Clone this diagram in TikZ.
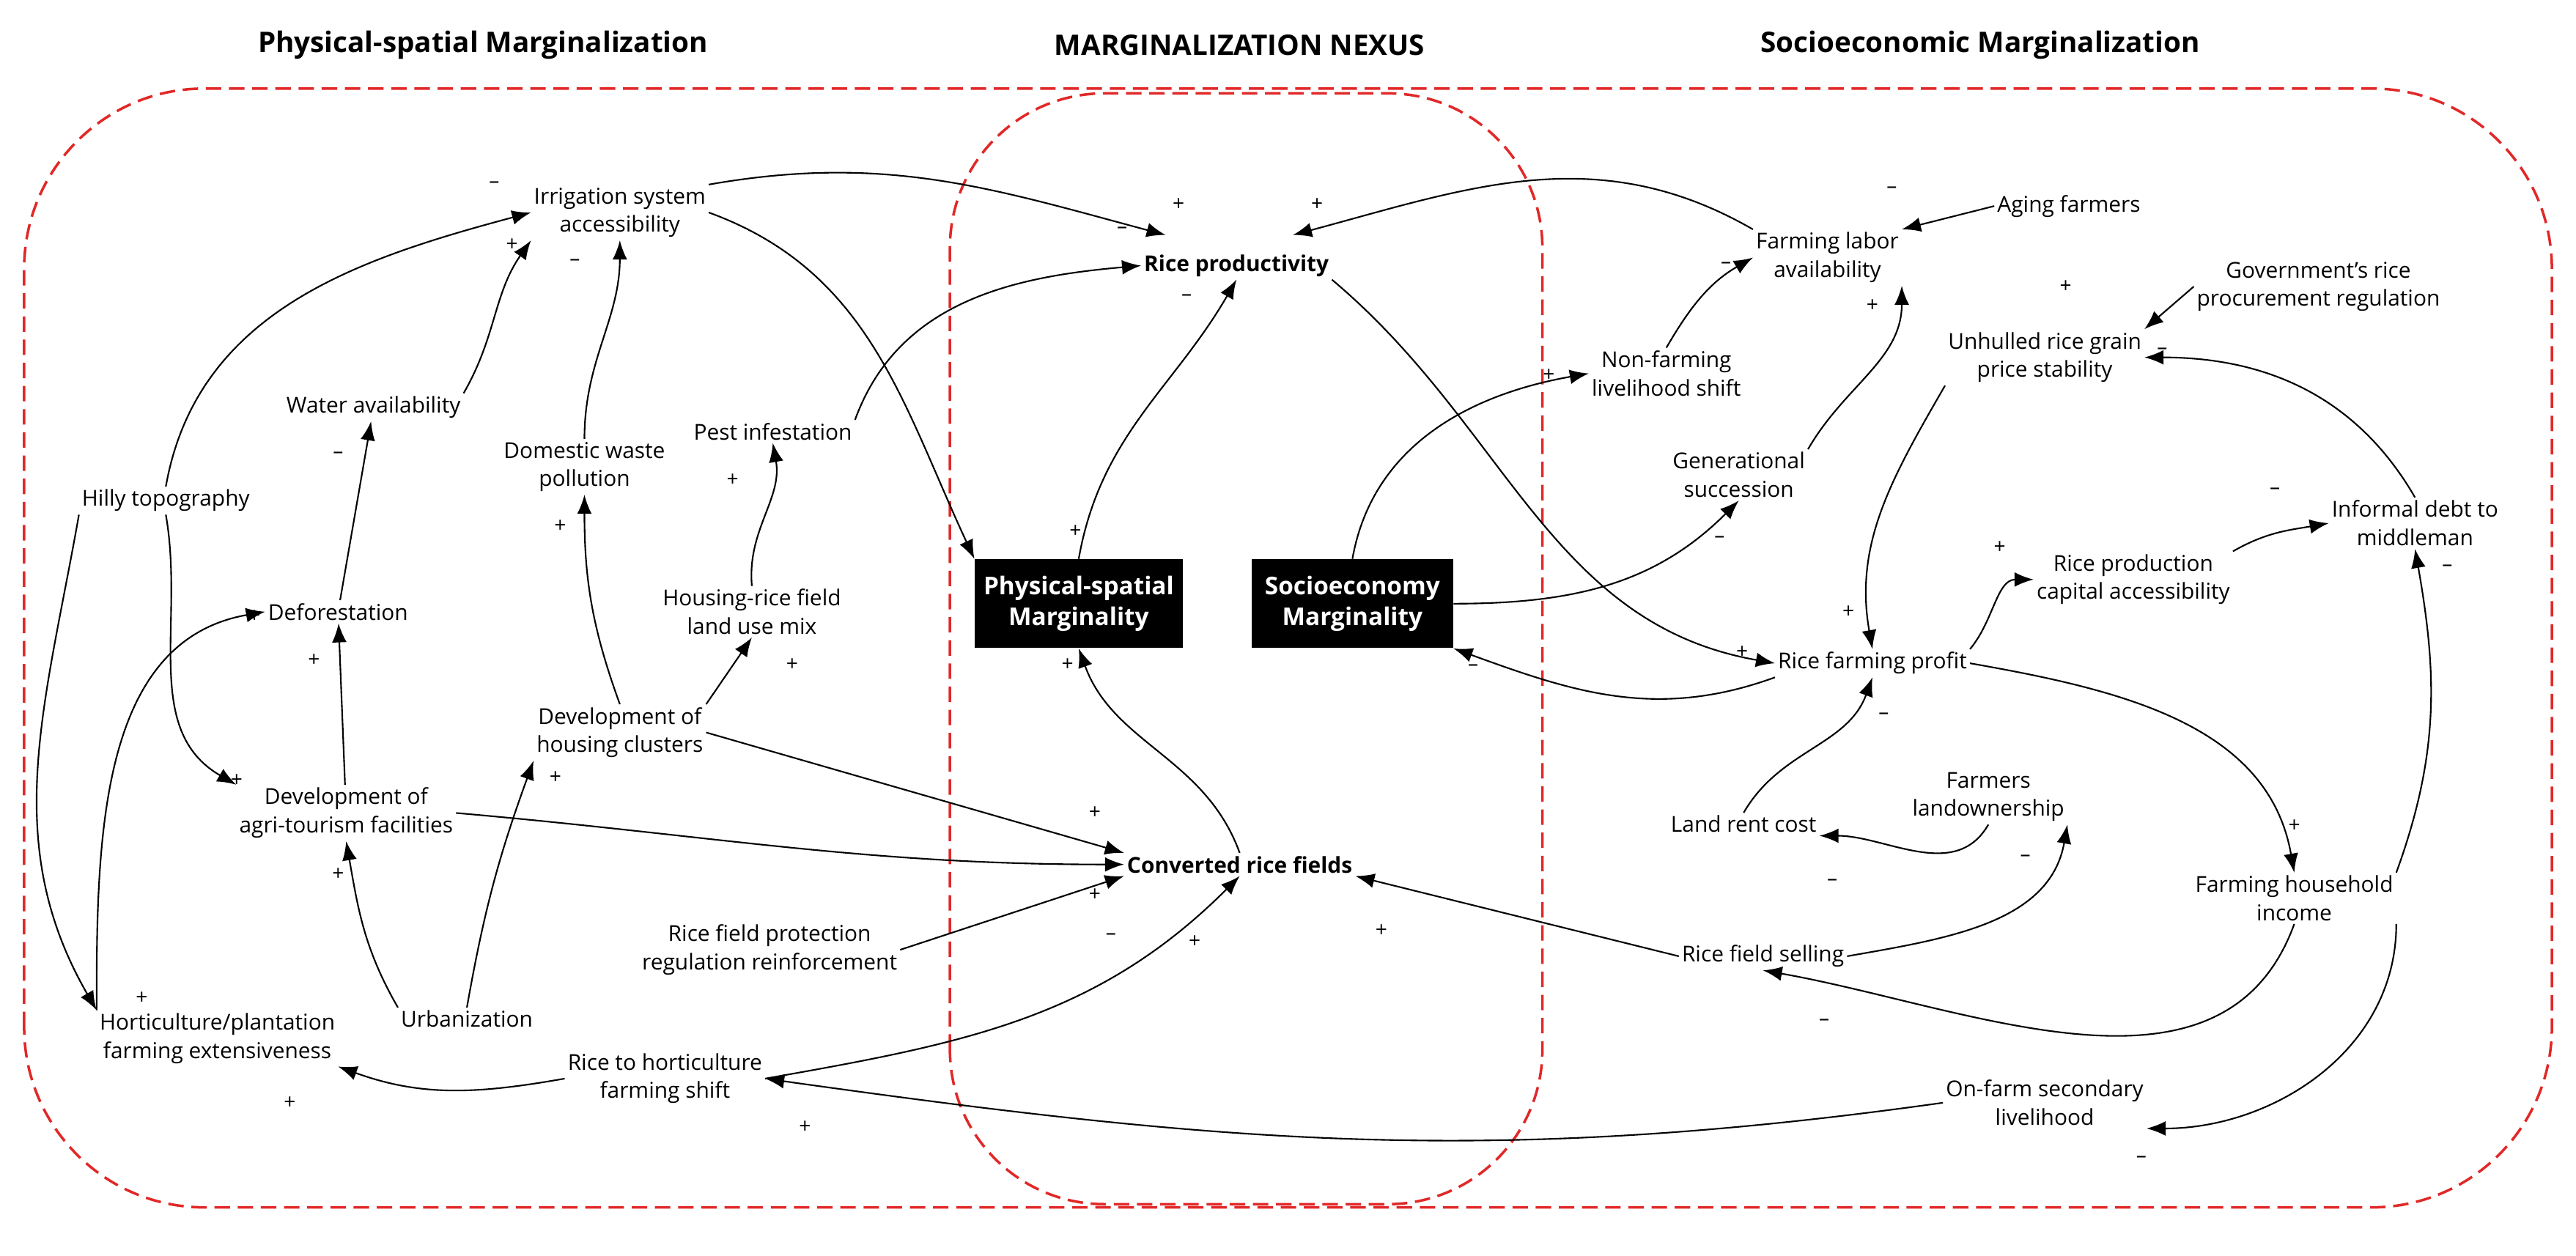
\documentclass[tikz,border=0pt]{standalone}
\usepackage{fontspec}
\setmainfont{Open Sans}
\usetikzlibrary{arrows.meta}
\definecolor{rd}{RGB}{225,40,40}
\begin{document}
\begin{tikzpicture}[x=0.02197cm,y=0.02197cm,
  n/.style={align=center,font=\fontsize{8.5}{11}\selectfont,inner sep=1pt},
  b/.style={n,font=\fontsize{8.5}{11}\selectfont\bfseries},
  blk/.style={fill=black,text=white,align=center,font=\fontsize{9.5}{12}\selectfont\bfseries,minimum width=125*0.02197cm,minimum height=55*0.02197cm},
  ttl/.style={font=\fontsize{11}{13}\selectfont\bfseries},
  sign/.style={font=\fontsize{8}{9}\selectfont,inner sep=0pt},
  a/.style={-{Latex[length=2.6mm,width=2mm]},line width=0.6pt},
  box/.style={rd,dashed,line width=1pt,dash pattern=on 6pt off 3pt}]
\useasboundingbox (0,0) rectangle (1600,780);
\node[ttl] (t1) at (300,752) {Physical-spatial Marginalization};
\node[ttl] (t2) at (770,752) {MARGINALIZATION NEXUS};
\node[ttl] (t3) at (1230,752) {Socioeconomic Marginalization};
\draw[box,rounded corners=70] (15,30) rectangle (1585,725);
\draw[box,rounded corners=60] (590,32) rectangle (958,722);
% nodes
\node[n] (irr) at (385,648) {Irrigation system\\accessibility};
\node[b] (rp) at (768,615) {Rice productivity};
\node[n] (fla) at (1135,620) {Farming labor\\availability};
\node[n] (aging) at (1285,652) {Aging farmers};
\node[n] (gov) at (1440,602) {Government's rice\\procurement regulation};
\node[n] (unh) at (1270,558) {Unhulled rice grain\\price stability};
\node[n] (nfl) at (1035,548) {Non-farming\\livelihood shift};
\node[n] (water) at (232,527) {Water availability};
\node[n] (dwp) at (363,490) {Domestic waste\\pollution};
\node[n] (pest) at (480,512) {Pest infestation};
\node[n] (gen) at (1080,485) {Generational\\succession};
\node[n] (hilly) at (103,469) {Hilly topography};
\node[n] (debt) at (1500,455) {Informal debt to\\middleman};
\node[n] (defor) at (210,400) {Deforestation};
\node[n] (mix) at (467,400) {Housing-rice field\\land use mix};
\node[blk] (psm) at (670,405) {Physical-spatial\\Marginality};
\node[blk] (sem) at (840,405) {Socioeconomy\\Marginality};
\node[n] (cap) at (1325,420) {Rice production\\capital accessibility};
\node[n] (profit) at (1163,368) {Rice farming profit};
\node[n] (dhc) at (385,325) {Development of\\housing clusters};
\node[n] (dat) at (215,275) {Development of\\agri-tourism facilities};
\node[b] (conv) at (770,243) {Converted rice fields};
\node[n] (rent) at (1083,268) {Land rent cost};
\node[n] (own) at (1235,285) {Farmers\\landownership};
\node[n] (income) at (1425,222) {Farming household\\income};
\node[n] (prot) at (478,190) {Rice field protection\\regulation reinforcement};
\node[n] (sell) at (1095,186) {Rice field selling};
\node[n] (hort) at (135,135) {Horticulture/plantation\\farming extensiveness};
\node[n] (urb) at (290,147) {Urbanization};
\node[n] (shift) at (413,110) {Rice to horticulture\\farming shift};
\node[n] (onfarm) at (1270,95) {On-farm secondary\\livelihood};
\coordinate (rpL) at (724,634);
\coordinate (rpR) at (803,634);
% edges
\draw[a] (irr.north east) to[out=10,in=165] (rpL);
\draw[a] (irr.east) to[out=-20,in=115] (psm.north west);
\draw[a] (hilly.north) to[out=80,in=195] (irr.west);
\draw[a] (water.north east) to[out=60,in=235] (irr.south west);
\draw[a] (dwp.north) to[out=90,in=-90] (irr.south);
\draw[a] (defor) to (water);
\draw[a] (dat) to (defor);
\draw[a] (hort.north west) to[out=90,in=190] (defor.west);
\draw[a] (hilly.south west) to[out=-100,in=120] (hort.north west);
\draw[a] (hilly.south) to[out=-80,in=150] (dat.north west);
\draw[a] (urb.north west) to[out=120,in=-80] (dat.south);
\draw[a] (urb.north) to[out=80,in=-110] (dhc.south west);
\draw[a] (dhc.north) to[out=110,in=-90] (dwp.south);
\draw[a] (dhc.north east) to (mix.south);
\draw[a] (mix.north) to[out=95,in=-80] (pest.south);
\draw[a] (pest.north east) to[out=70,in=185] (rp.west);
\draw[a] (dhc.east) to (conv.north west);
\draw[a] (dat.east) to[out=-5,in=180] (conv.west);
\draw[a] (prot.east) to (conv.south west);
\draw[a] (shift.east) to[out=10,in=-135] (conv.south);
\draw[a] (shift.west) to[out=190,in=-20] (hort.south east);
\draw[a] (onfarm.west) to[out=188,in=-8] (shift.east);
\draw[a] (conv.north) to[out=110,in=-70] (psm.south);
\draw[a] (psm.north) to[out=80,in=-120] (rp.south);
\draw[a] (rp.south east) to[out=-40,in=170] (profit.west);
\draw[a] (sem.north) to[out=80,in=190] (nfl.west);
\draw[a] (sem.east) to[out=0,in=-135] (gen.south);
\draw[a] (profit.south west) to[out=200,in=-20] (sem.south east);
\draw[a] (fla.north west) to[out=150,in=15] (rpR);
\draw[a] (aging.west) to (fla.north east);
\draw[a] (nfl.north) to[out=60,in=-150] (fla.west);
\draw[a] (gen.north east) to[out=60,in=-90] (fla.south east);
\draw[a] (gov.west) to (unh.north east);
\draw[a] (unh.south west) to[out=-120,in=100] (profit.north);
\draw[a] (debt.north) to[out=120,in=0] (unh.east);
\draw[a] (profit.north east) to[out=50,in=180] (cap.west);
\draw[a] (cap.north east) to[out=30,in=190] (debt.west);
\draw[a] (income.north east) to[out=70,in=-80] (debt.south);
\draw[a] (profit.east) to[out=-10,in=100] (income.north);
\draw[a] (rent.north) to[out=60,in=-110] (profit.south);
\draw[a] (own.south) to[out=-120,in=0] (rent.south east);
\draw[a] (sell.east) to[out=10,in=-100] (own.south east);
\draw[a] (sell.west) to (conv.south east);
\draw[a] (income.south) to[out=-110,in=-10] (sell.south);
\draw[a] (income.south east) to[out=-90,in=0] (onfarm.south east);
% signs
\foreach \x/\y/\t [count=\i] in {732/653/+,668/450/+,307/665/–,318/628/+,357/617/–,210/497/–,195/370/+,158/397/+,88/160/+,147/295/+,
210/237/+,345/297/+,348/453/+,492/367/+,455/482/+,697/637/–,680/275/+,680/224/+,690/198/–,742/195/+,
180/95/+,500/80/+,663/367/+,737/595/–,1082/375/+,962/547/+,1068/445/–,915/365/–,818/653/+,1175/662/–,
1072/615/–,1163/590/+,1283/602/+,1148/400/+,1343/562/–,1242/440/+,1413/475/–,1520/427/–,1425/267/+,1170/335/–,
1138/232/–,1258/247/–,858/202/+,1133/145/–,1330/60/–}
  \node[sign] (s\i) at (\x,\y) {\t};
\end{tikzpicture}
\end{document}
